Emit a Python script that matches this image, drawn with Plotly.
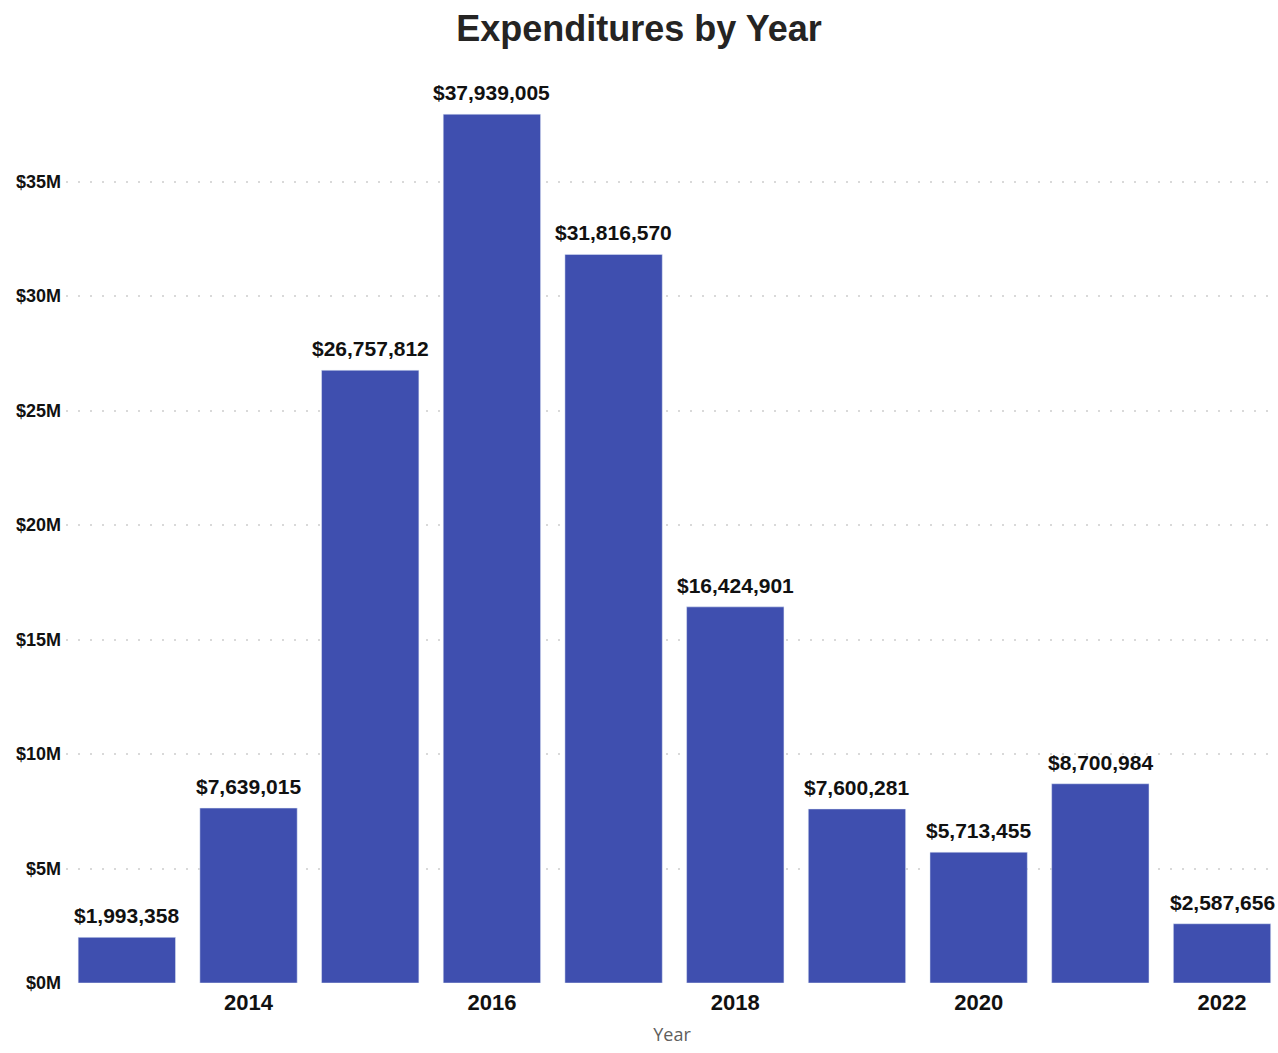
import plotly.graph_objects as go

years = [2013, 2014, 2015, 2016, 2017, 2018, 2019, 2020, 2021, 2022]
expenditures = [1993358, 7639015, 26757812, 37939005, 31816570, 16424901, 7600281, 5713455, 8700984, 2587656]
y_tick_vals = [0, 5e6, 10e6, 15e6, 20e6, 25e6, 30e6, 35e6]
y_tick_text = ["$0M", "$5M", "$10M", "$15M", "$20M", "$25M", "$30M", "$35M"]
x_tick_vals = [2014, 2016, 2018, 2020, 2022]

fig = go.Figure(go.Bar(
    x=years,
    y=expenditures,
    marker=dict(color="#3f4faf"),
    cliponaxis=False,
))

for yr, val in zip(years, expenditures):
    fig.add_annotation(
        x=yr, y=val, xref="x", yref="y",
        text=f"<b>${val:,}</b>",
        showarrow=False, yanchor="bottom", xanchor="center", yshift=8,
        font=dict(family="Liberation Sans", size=21, color="#111111"),
    )

fig.update_layout(
    width=1278, height=1053,
    paper_bgcolor="white", plot_bgcolor="white",
    margin=dict(l=66, r=0, t=67, b=70),
    bargap=0.2,
    showlegend=False,
    title=dict(text="<b>Expenditures by Year</b>", x=0.5, xanchor="center", y=0.973, yanchor="middle",
               font=dict(family="Liberation Sans", size=36, color="#252423")),
    xaxis=dict(
        range=[2012.5, 2022.46],
        tickvals=x_tick_vals,
        ticktext=[str(v) for v in x_tick_vals],
        tickfont=dict(family="Liberation Sans", size=22, color="#111111", weight="bold"),
        showgrid=False, zeroline=False, showline=False,
        title=dict(text="Year", font=dict(family="Open Sans", size=18, color="#605e5c"), standoff=14),
        ticks="", ticklen=0, ticklabelstandoff=4,
    ),
    yaxis=dict(
        range=[0, 40e6],
        tickvals=y_tick_vals,
        ticktext=y_tick_text,
        tickfont=dict(family="Liberation Sans", size=18, color="#111111", weight="bold"),
        showgrid=True, gridcolor="#d9d9d9", griddash="2px,10px", gridwidth=2,
        zeroline=False, showline=False, ticks="", ticklabelstandoff=4,
    ),
)

fig.write_html("out.html")
